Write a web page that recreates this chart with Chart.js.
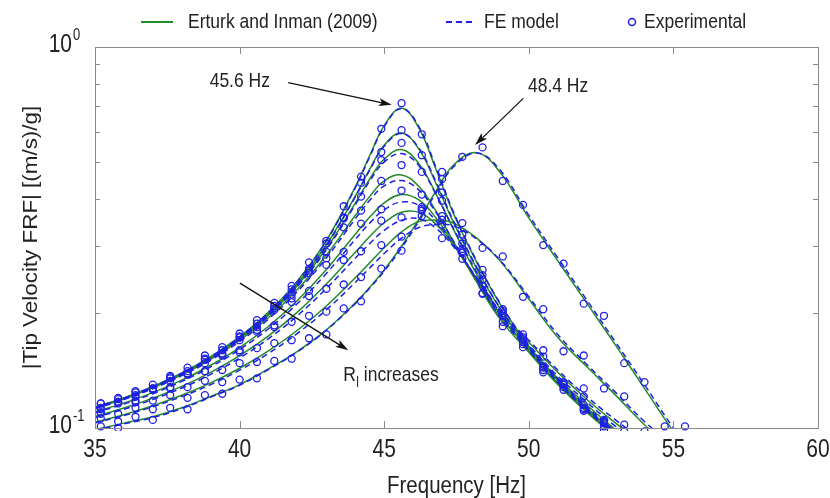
<!DOCTYPE html>
<html>
<head>
<meta charset="utf-8">
<title>Tip velocity FRF</title>
<script src="https://cdn.jsdelivr.net/npm/chart.js@4.4.1/dist/chart.umd.min.js"></script>
<style>
  html, body { margin: 0; padding: 0; background: #fff; }
  #wrap { width: 830px; height: 498px; }
</style>
</head>
<body>
<div id="wrap"><canvas id="frfChart" width="830" height="498"></canvas></div>
<script>
// Frecuencias de las curvas de modelo (Hz)
const freqModel = [35, 36, 37, 38, 39, 40, 41, 42, 43, 44, 44.5, 45, 45.6, 46.2, 46.8, 47.4, 48.2, 49, 50, 51, 52, 53, 54, 55, 56];

// Erturk and Inman (2009), una curva por resistencia de carga
const erturk1 = [0.1135, 0.120, 0.1286, 0.1395, 0.154, 0.1737, 0.2016, 0.2433, 0.3108, 0.4293, 0.519, 0.622, 0.691, 0.6125, 0.4755, 0.3648, 0.272, 0.212, 0.164, 0.134, 0.113, 0.097, 0.085, 0.075, 0.067];
const erturk2 = [0.1133, 0.1198, 0.1282, 0.139, 0.1533, 0.1726, 0.1996, 0.2396, 0.3026, 0.4063, 0.478, 0.5523, 0.595, 0.5395, 0.437, 0.3458, 0.262, 0.206, 0.162, 0.133, 0.112, 0.096, 0.084, 0.074, 0.066];
const erturk3 = [0.1131, 0.1196, 0.128, 0.1386, 0.1527, 0.1716, 0.198, 0.2366, 0.2958, 0.3892, 0.4503, 0.508, 0.538, 0.4939, 0.4105, 0.3315, 0.253, 0.199, 0.16, 0.131, 0.111, 0.095, 0.083, 0.073, 0.065];
const erturk4 = [0.1128, 0.1192, 0.1274, 0.1379, 0.1515, 0.1698, 0.195, 0.2309, 0.284, 0.3611, 0.4055, 0.4454, 0.4616, 0.4305, 0.3702, 0.308, 0.2414, 0.1934, 0.158, 0.13, 0.11, 0.095, 0.083, 0.073, 0.065];
const erturk5 = [0.1102, 0.1162, 0.1238, 0.1335, 0.1461, 0.1626, 0.185, 0.2162, 0.2606, 0.3224, 0.3577, 0.3899, 0.4102, 0.3967, 0.3551, 0.3039, 0.2428, 0.1959, 0.163, 0.135, 0.115, 0.099, 0.087, 0.077, 0.069];
const erturk6 = [0.1072, 0.1128, 0.1198, 0.1286, 0.14, 0.1548, 0.1746, 0.2015, 0.2388, 0.2891, 0.318, 0.3457, 0.3684, 0.368, 0.342, 0.3015, 0.2462, 0.2005, 0.168, 0.14, 0.119, 0.103, 0.09, 0.079, 0.07];
const erturk7 = [0.1036, 0.1084, 0.1144, 0.1219, 0.1313, 0.1435, 0.1594, 0.1805, 0.2091, 0.2479, 0.2715, 0.2971, 0.3271, 0.3483, 0.351, 0.345, 0.315, 0.275, 0.218, 0.173, 0.145, 0.122, 0.102, 0.088, 0.077];
const erturk8 = [0.099, 0.103, 0.107, 0.113, 0.121, 0.130, 0.143, 0.159, 0.181, 0.213, 0.234, 0.26, 0.30, 0.353, 0.42, 0.49, 0.528, 0.47, 0.356, 0.275, 0.213, 0.165, 0.127, 0.098, 0.078];

// Modelo de elementos finitos
const fe1 = [0.1132, 0.1198, 0.1283, 0.1392, 0.1537, 0.1733, 0.201, 0.2425, 0.3095, 0.427, 0.515, 0.618, 0.690, 0.618, 0.481, 0.368, 0.274, 0.213, 0.165, 0.135, 0.114, 0.098, 0.086, 0.076, 0.068];
const fe2 = [0.1131, 0.1196, 0.128, 0.1387, 0.1529, 0.172, 0.1988, 0.2385, 0.301, 0.404, 0.475, 0.549, 0.593, 0.543, 0.441, 0.349, 0.264, 0.207, 0.163, 0.134, 0.113, 0.097, 0.085, 0.075, 0.067];
const fe3 = [0.1128, 0.1193, 0.1276, 0.1381, 0.1521, 0.1708, 0.197, 0.2352, 0.2935, 0.3855, 0.445, 0.499, 0.525, 0.488, 0.409, 0.333, 0.256, 0.201, 0.161, 0.132, 0.112, 0.096, 0.084, 0.074, 0.066];
const fe4 = [0.1124, 0.1188, 0.1268, 0.1372, 0.1506, 0.1686, 0.1932, 0.2282, 0.2795, 0.354, 0.396, 0.432, 0.446, 0.421, 0.367, 0.309, 0.245, 0.196, 0.16, 0.132, 0.111, 0.096, 0.084, 0.074, 0.066];
const fe5 = [0.1097, 0.1156, 0.123, 0.1325, 0.1447, 0.1607, 0.1822, 0.2122, 0.2545, 0.3125, 0.345, 0.374, 0.392, 0.384, 0.349, 0.303, 0.246, 0.199, 0.165, 0.137, 0.117, 0.101, 0.089, 0.078, 0.07];
const fe6 = [0.1066, 0.112, 0.1188, 0.1273, 0.1383, 0.1526, 0.1716, 0.1972, 0.2325, 0.279, 0.305, 0.33, 0.351, 0.354, 0.334, 0.299, 0.248, 0.203, 0.17, 0.142, 0.121, 0.105, 0.092, 0.08, 0.071];
const fe7 = [0.1031, 0.1078, 0.1137, 0.1209, 0.13, 0.1418, 0.157, 0.1772, 0.2043, 0.241, 0.263, 0.287, 0.315, 0.336, 0.342, 0.339, 0.313, 0.276, 0.221, 0.176, 0.147, 0.124, 0.104, 0.09, 0.079];
const fe8 = [0.0985, 0.1025, 0.1065, 0.1125, 0.1205, 0.1295, 0.1425, 0.1585, 0.1805, 0.212, 0.233, 0.258, 0.297, 0.349, 0.415, 0.485, 0.527, 0.476, 0.362, 0.28, 0.217, 0.168, 0.13, 0.1, 0.08];

// Frecuencias medidas (Hz) y resultados experimentales
const freqExp = [35.2, 35.8, 36.4, 37, 37.6, 38.2, 38.8, 39.4, 40, 40.6, 41.2, 41.8, 42.4, 43, 43.6, 44.2, 44.9, 45.6, 46.3, 47, 47.7, 48.4, 49.1, 49.8, 50.5, 51.2, 51.9, 52.6, 53.3, 54, 54.7, 55.4];
const exp1 = [0.116, 0.117, 0.125, 0.127, 0.137, 0.141, 0.155, 0.16, 0.177, 0.188, 0.213, 0.231, 0.272, 0.305, 0.382, 0.457, 0.61, 0.712, 0.59, 0.45, 0.322, 0.26, 0.203, 0.176, 0.145, 0.132, 0.113, 0.105, null, null, null, null];
const exp2 = [0.113, 0.12, 0.122, 0.13, 0.133, 0.144, 0.148, 0.163, 0.17, 0.192, 0.204, 0.236, 0.259, 0.31, 0.355, 0.44, 0.53, 0.605, 0.52, 0.415, 0.305, 0.252, 0.197, 0.173, 0.144, 0.131, 0.112, 0.104, null, null, null, null];
const exp3 = [0.112, 0.119, 0.121, 0.127, 0.136, 0.139, 0.152, 0.157, 0.174, 0.184, 0.209, 0.224, 0.262, 0.29, 0.357, 0.405, 0.505, 0.56, 0.47, 0.395, 0.295, 0.245, 0.19, 0.171, 0.142, 0.13, 0.111, 0.103, null, null, null, null];
const exp4 = [0.116, 0.116, 0.124, 0.126, 0.135, 0.138, 0.151, 0.156, 0.173, 0.181, 0.206, 0.219, 0.255, 0.279, 0.336, 0.372, 0.445, 0.49, 0.41, 0.36, 0.278, 0.236, 0.185, 0.168, 0.14, 0.128, 0.115, 0.099, null, null, null, null];
const exp5 = [0.109, 0.117, 0.118, 0.126, 0.127, 0.139, 0.141, 0.155, 0.16, 0.179, 0.186, 0.214, 0.229, 0.268, 0.29, 0.344, 0.375, 0.42, 0.38, 0.352, 0.291, 0.225, 0.2, 0.163, 0.154, 0.126, 0.121, 0.101, 0.098, null, null, null];
const exp6 = [0.11, 0.109, 0.117, 0.118, 0.128, 0.128, 0.141, 0.142, 0.158, 0.162, 0.184, 0.19, 0.222, 0.232, 0.276, 0.291, 0.35, 0.357, 0.376, 0.315, 0.288, 0.226, 0.205, 0.166, 0.16, 0.13, 0.127, 0.104, 0.102, null, null, null];
const exp7 = [0.106, 0.104, 0.113, 0.112, 0.122, 0.12, 0.133, 0.132, 0.148, 0.149, 0.167, 0.17, 0.197, 0.202, 0.238, 0.249, 0.302, 0.318, 0.36, 0.342, 0.345, 0.297, 0.282, 0.221, 0.205, 0.159, 0.155, 0.127, 0.121, 0.098, null, null];
const exp8 = [0.101, 0.1, 0.107, 0.105, 0.113, 0.112, 0.122, 0.123, 0.134, 0.135, 0.15, 0.152, 0.172, 0.176, 0.206, 0.215, 0.262, 0.292, 0.372, 0.47, 0.515, 0.545, 0.445, 0.385, 0.302, 0.27, 0.212, 0.197, 0.148, 0.132, 0.101, 0.101];

// Ejes
const xTicks = [35, 40, 45, 50, 55, 60];
const yMajorTicks = [0.1, 1];
const yMajorExponents = ['-1', '0'];
const yMinorTicks = [0.2, 0.3, 0.4, 0.5, 0.6, 0.7, 0.8, 0.9];

const GREEN = '#23892a';
const BLUE = '#1f1fe6';
const AXIS = '#8a8a8a';
const TEXT = '#222';
const FONT = '"Liberation Sans", Arial, sans-serif';
const STRETCH = 1.2;   // el texto original sale estirado en vertical

function toPoints(xs, ys) {
    const pts = [];
    xs.forEach((x, i) => {
        if (ys[i] !== null) pts.push({ x: x, y: ys[i] });
    });
    return pts;
}

const erturkCurves = [erturk1, erturk2, erturk3, erturk4, erturk5, erturk6, erturk7, erturk8];
const feCurves = [fe1, fe2, fe3, fe4, fe5, fe6, fe7, fe8];
const expCurves = [exp1, exp2, exp3, exp4, exp5, exp6, exp7, exp8];

const datasets = [];
erturkCurves.forEach(c => datasets.push({
    data: toPoints(freqModel, c), showLine: true, borderColor: GREEN, borderWidth: 1.5,
    pointRadius: 0, tension: 0.4, order: 3, clip: 0
}));
feCurves.forEach(c => datasets.push({
    data: toPoints(freqModel, c), showLine: true, borderColor: BLUE, borderWidth: 1.5,
    borderDash: [6, 4], pointRadius: 0, tension: 0.4, order: 2, clip: 0
}));
expCurves.forEach(c => datasets.push({
    data: toPoints(freqExp, c), showLine: false, borderColor: BLUE, backgroundColor: 'rgba(0,0,0,0)',
    pointRadius: 3.5, borderWidth: 1.3, pointStyle: 'circle', order: 1, clip: 3
}));

// Textos y flechas, en coordenadas de datos
const arrows = [
    { from: [41.68, 0.806], to: [45.26, 0.705] },
    { from: [49.81, 0.733], to: [48.14, 0.553] },
    { from: [40.01, 0.24], to: [43.76, 0.16] }
];

function drawText(ctx, txt, x, y, size, align) {
    ctx.save();
    ctx.translate(x, y);
    ctx.scale(1, STRETCH);
    ctx.font = size + 'px ' + FONT;
    ctx.fillStyle = TEXT;
    ctx.textAlign = align || 'left';
    ctx.textBaseline = 'middle';
    ctx.fillText(txt, 0, 0);
    ctx.restore();
}

function drawArrow(ctx, x1, y1, x2, y2) {
    const ang = Math.atan2(y2 - y1, x2 - x1);
    const len = 13, half = 4;
    ctx.save();
    ctx.strokeStyle = '#111';
    ctx.fillStyle = '#111';
    ctx.lineWidth = 1.3;
    ctx.beginPath();
    ctx.moveTo(x1, y1);
    ctx.lineTo(x2 - Math.cos(ang) * 6, y2 - Math.sin(ang) * 6);
    ctx.stroke();
    ctx.translate(x2, y2);
    ctx.rotate(ang);
    ctx.beginPath();
    ctx.moveTo(0, 0);
    ctx.lineTo(-len, -half);
    ctx.lineTo(-len + 3, 0);
    ctx.lineTo(-len, half);
    ctx.closePath();
    ctx.fill();
    ctx.restore();
}

const figurePlugin = {
    id: 'figureFrame',
    afterDraw(chart) {
        const ctx = chart.ctx;
        const a = chart.chartArea;
        const xs = chart.scales.x, ys = chart.scales.y;

        // marco y marcas hacia dentro
        ctx.save();
        ctx.strokeStyle = AXIS;
        ctx.lineWidth = 1;
        ctx.strokeRect(a.left + 0.5, a.top + 0.5, a.right - a.left, a.bottom - a.top);
        ctx.beginPath();
        xTicks.forEach(t => {
            const px = Math.round(xs.getPixelForValue(t)) + 0.5;
            ctx.moveTo(px, a.bottom); ctx.lineTo(px, a.bottom - 7);
            ctx.moveTo(px, a.top); ctx.lineTo(px, a.top + 7);
        });
        yMinorTicks.forEach(t => {
            const py = Math.round(ys.getPixelForValue(t)) + 0.5;
            ctx.moveTo(a.left, py); ctx.lineTo(a.left + 5, py);
            ctx.moveTo(a.right, py); ctx.lineTo(a.right - 5, py);
        });
        ctx.stroke();
        ctx.restore();

        // etiquetas de ejes
        xTicks.forEach(t => drawText(ctx, String(t), xs.getPixelForValue(t), a.bottom + 22, 21, 'center'));
        yMajorTicks.forEach((t, i) => {
            const py = ys.getPixelForValue(t);
            drawText(ctx, '10', 72, py - 2, 21, 'right');
            drawText(ctx, yMajorExponents[i], 73, py - 11, 13, 'left');
        });
        drawText(ctx, 'Frequency [Hz]', (a.left + a.right) / 2, 486, 20.5, 'center');

        ctx.save();
        ctx.translate(31, (a.top + a.bottom) / 2);
        ctx.rotate(-Math.PI / 2);
        ctx.scale(1.12, 1);
        ctx.font = '20px ' + FONT;
        ctx.fillStyle = TEXT;
        ctx.textAlign = 'center';
        ctx.textBaseline = 'middle';
        ctx.fillText('|Tip Velocity FRF| [(m/s)/g]', 0, 0);
        ctx.restore();

        // leyenda
        ctx.save();
        ctx.lineWidth = 2;
        ctx.strokeStyle = GREEN;
        ctx.beginPath(); ctx.moveTo(141, 22); ctx.lineTo(173, 22); ctx.stroke();
        ctx.strokeStyle = BLUE;
        ctx.setLineDash([6, 4]);
        ctx.beginPath(); ctx.moveTo(446, 22); ctx.lineTo(474, 22); ctx.stroke();
        ctx.setLineDash([]);
        ctx.lineWidth = 1.5;
        ctx.beginPath(); ctx.arc(632, 22, 3.5, 0, Math.PI * 2); ctx.stroke();
        ctx.restore();
        drawText(ctx, 'Erturk and Inman (2009)', 188, 22, 17.5, 'left');
        drawText(ctx, 'FE model', 484, 22, 17.5, 'left');
        drawText(ctx, 'Experimental', 644, 22, 17.5, 'left');

        // flechas y anotaciones
        arrows.forEach(ar => drawArrow(ctx,
            xs.getPixelForValue(ar.from[0]), ys.getPixelForValue(ar.from[1]),
            xs.getPixelForValue(ar.to[0]), ys.getPixelForValue(ar.to[1])));
        drawText(ctx, '45.6 Hz', xs.getPixelForValue(41.05), ys.getPixelForValue(0.811), 17.5, 'right');
        drawText(ctx, '48.4 Hz', xs.getPixelForValue(49.97), ys.getPixelForValue(0.79), 17.5, 'left');
        const rx = xs.getPixelForValue(43.58), ry = ys.getPixelForValue(0.1377);
        drawText(ctx, 'R', rx, ry, 17.5, 'left');
        ctx.font = '17.5px ' + FONT;
        const rw = ctx.measureText('R').width;
        drawText(ctx, 'l', rx + rw + 0.5, ry + 8, 12, 'left');
        drawText(ctx, 'increases', rx + rw + 8, ry, 17.5, 'left');
    }
};

const frfCtx = document.getElementById('frfChart').getContext('2d');
const frfChart = new Chart(frfCtx, {
    type: 'scatter',
    data: { datasets: datasets },
    options: {
        responsive: false,
        animation: false,
        devicePixelRatio: 1,
        layout: { padding: { top: 47, right: 12, left: 0, bottom: 0 } },
        plugins: {
            legend: { display: false },
            tooltip: { enabled: false }
        },
        scales: {
            x: {
                type: 'linear', min: 35, max: 60,
                grid: { display: false }, border: { display: false },
                ticks: { display: false },
                afterFit: function(scale) { scale.height = 70; }
            },
            y: {
                type: 'logarithmic', min: 0.1, max: 1,
                grid: { display: false }, border: { display: false },
                ticks: { display: false },
                afterFit: function(scale) { scale.width = 95; }
            }
        }
    },
    plugins: [figurePlugin]
});
</script>
</body>
</html>
